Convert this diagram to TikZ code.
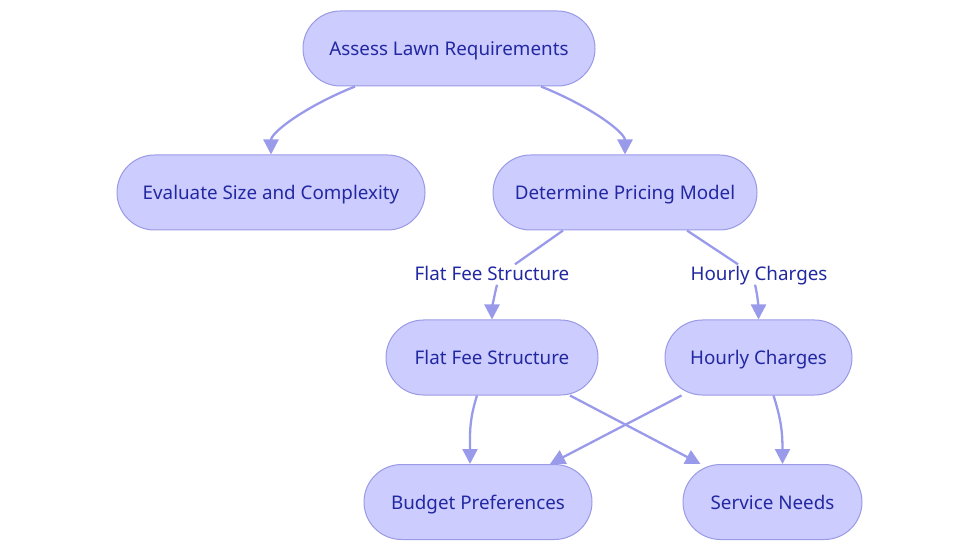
\documentclass[tikz,border=0pt]{standalone}
\usepackage{fontspec}
\setmainfont{Noto Sans}
\usetikzlibrary{arrows.meta}
\definecolor{nodefill}{HTML}{CCCCFF}
\definecolor{nodeline}{HTML}{9A9AE6}
\definecolor{edgecol}{HTML}{9A9AEA}
\definecolor{txt}{HTML}{2228A0}
\tikzset{
  box/.style={draw=nodeline, fill=nodefill, line width=1pt, rounded corners=37.5pt,
    minimum height=75pt, text=txt, font=\fontsize{18.8}{20}\selectfont, inner sep=0pt,
    text height=15.5pt, text depth=1.5pt},
  lbl/.style={text=txt, font=\fontsize{18.8}{20}\selectfont, inner sep=2pt,
    text height=15.5pt, text depth=1.5pt},
  conn/.style={draw=edgecol, line width=2.3pt},
  arr/.style={conn, -{Triangle[length=15pt,width=15pt]}},
}
\begin{document}
\begin{tikzpicture}[x=1pt,y=-1pt]
\useasboundingbox (0,0) rectangle (980,553);
\node[box, minimum width=292pt] (assess) at (449,48.5) {Assess Lawn Requirements};
\node[box, minimum width=308pt] (eval) at (271,192.5) {Evaluate Size and Complexity};
\node[box, minimum width=264pt] (det) at (625,192.5) {Determine Pricing Model};
\node[box, minimum width=212pt] (flat) at (492,357.5) {Flat Fee Structure};
\node[box, minimum width=187pt] (hour) at (758.5,357.5) {Hourly Charges};
\node[box, minimum width=228pt] (budget) at (478,502) {Budget Preferences};
\node[box, minimum width=179pt] (serv) at (772.5,502) {Service Needs};
\node[lbl] (lflat) at (492,274) {Flat Fee Structure};
\node[lbl] (lhour) at (759,274) {Hourly Charges};

\draw[arr] ([xshift=-94pt]assess.south) .. controls +(-50,20) and +(0,-22) .. (eval.north);
\draw[arr] ([xshift=92pt]assess.south) .. controls +(50,20) and +(0,-22) .. (det.north);

\draw[conn] ([xshift=-62pt]det.south) -- ([xshift=23pt,yshift=-1pt]lflat.north);
\draw[arr] ([xshift=5pt]lflat.south) .. controls +(-3,12) and +(0,-10) .. (flat.north);
\draw[conn] ([xshift=62pt]det.south) -- ([xshift=-21pt,yshift=-1pt]lhour.north);
\draw[arr] ([xshift=-4pt]lhour.south) .. controls +(3,12) and +(0,-10) .. (hour.north);

\draw[arr] ([xshift=-15pt]flat.south) .. controls +(-8,25) and +(0,-30) .. ([xshift=-8pt]budget.north);
\draw[arr] ([xshift=78pt]flat.south) -- ([xshift=-72pt]serv.north);
\draw[arr] ([xshift=-77pt]hour.south) -- ([xshift=72pt]budget.north);
\draw[arr] ([xshift=15pt]hour.south) .. controls +(8,25) and +(0,-30) .. ([xshift=10pt]serv.north);
\end{tikzpicture}
\end{document}
